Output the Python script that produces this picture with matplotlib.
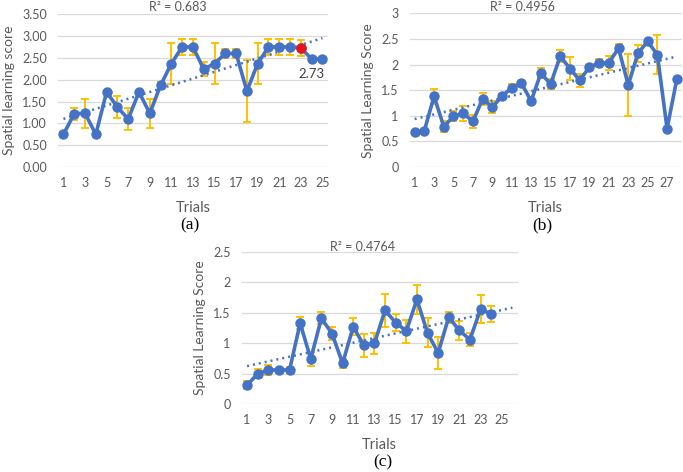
import numpy as np
import matplotlib
matplotlib.use("Agg")
import matplotlib.pyplot as plt

plt.rcParams['font.family'] = ['Lato', 'DejaVu Sans']

# ---------------- data ----------------
trials_a = list(range(1, 26))
score_a = [0.75, 1.22, 1.23, 0.75, 1.72, 1.37, 1.10, 1.72, 1.23, 1.87,
           2.37, 2.75, 2.75, 2.24, 2.37, 2.60, 2.60, 1.74, 2.37, 2.75,
           2.75, 2.75, 2.73, 2.47, 2.47]
err_a = [0, 0.14, 0.33, 0, 0, 0.25, 0.25, 0, 0.33, 0.08,
         0.46, 0.19, 0.19, 0.16, 0.46, 0.10, 0.10, 0.70, 0.46, 0.19,
         0.19, 0.19, 0.19, 0, 0]
r2_a = "R² = 0.683"
yticks_a = [0, 0.5, 1.0, 1.5, 2.0, 2.5, 3.0, 3.5]
ylabels_a = ["0.00", "0.50", "1.00", "1.50", "2.00", "2.50", "3.00", "3.50"]
xticks_a = list(range(1, 26, 2))

trials_b = list(range(1, 29))
score_b = [0.68, 0.71, 1.38, 0.79, 0.99, 1.05, 0.89, 1.33, 1.17, 1.38,
           1.55, 1.63, 1.29, 1.83, 1.62, 2.16, 1.92, 1.69, 1.95, 2.03,
           2.03, 2.32, 1.60, 2.22, 2.45, 2.19, 0.75, 1.71]
err_b = [0, 0, 0.15, 0.10, 0.10, 0.15, 0.12, 0.12, 0.12, 0.05,
         0.07, 0, 0, 0.10, 0.10, 0.12, 0.23, 0.13, 0.05, 0.07,
         0.13, 0.08, 0.60, 0.17, 0, 0.38, 0, 0]
r2_b = "R² = 0.4956"
yticks_b = [0, 0.5, 1, 1.5, 2, 2.5, 3]
ylabels_b = ["0", "0.5", "1", "1.5", "2", "2.5", "3"]
xticks_b = list(range(1, 28, 2))

trials_c = list(range(1, 25))
score_c = [0.31, 0.50, 0.56, 0.56, 0.56, 1.33, 0.74, 1.41, 1.16, 0.67,
           1.27, 0.97, 1.00, 1.54, 1.34, 1.20, 1.72, 1.17, 0.84, 1.43,
           1.21, 1.06, 1.56, 1.48]
err_c = [0.07, 0.07, 0.08, 0, 0.05, 0.10, 0.11, 0.10, 0.10, 0.07,
         0.14, 0.19, 0.17, 0.27, 0.14, 0.19, 0.24, 0.24, 0.26, 0.09,
         0.16, 0.11, 0.23, 0.13]
r2_c = "R² = 0.4764"
yticks_c = [0, 0.5, 1, 1.5, 2, 2.5]
ylabels_c = ["0", "0.5", "1", "1.5", "2", "2.5"]
xticks_c = list(range(1, 26, 2))

BLUE = "#4472C4"
GOLD = "#FFC000"
GRID = "#D9D9D9"
TXT = "#595959"

fig = plt.figure(figsize=(6.83, 4.72), dpi=100)

def panel(rect, x, y, e, xlim, yticks, ylabels, xticks, r2, r2pos, ylab, trend_end):
    ax = fig.add_axes(rect)
    x = np.array(x); y = np.array(y); e = np.array(e)
    ax.set_xlim(*xlim)
    ax.set_ylim(yticks[0], yticks[-1])
    ax.set_yticks(yticks)
    ax.set_yticklabels(ylabels)
    ax.set_xticks(xticks)
    ax.set_xticklabels([str(t) for t in xticks])
    ax.grid(axis='y', color=GRID, lw=0.9)
    ax.set_axisbelow(True)
    for s in ax.spines.values():
        s.set_visible(False)
    ax.tick_params(length=0, labelsize=9, colors=TXT, pad=8)
    ax.tick_params(axis='x', pad=7)
    mask = e > 0
    ax.errorbar(x[mask], y[mask], yerr=e[mask], fmt='none', ecolor=GOLD,
                elinewidth=1.4, capsize=3, capthick=1.4, zorder=2)
    ax.plot(x, y, color=BLUE, lw=2.6, marker='o', ms=6.5, zorder=3)
    k, b = np.polyfit(x, y, 1)
    xt = np.array([1, trend_end])
    ax.plot(xt, k * xt + b, color=BLUE, lw=1.8, ls=(0, (0.8, 1.6)), zorder=2.5)
    ax.text(r2pos[0], r2pos[1], r2, transform=ax.transAxes, ha='center',
            va='center', fontsize=9, color=TXT)
    ax.set_xlabel("Trials", fontsize=10.5, color=TXT, labelpad=9)
    ax.set_ylabel(ylab, fontsize=10, color=TXT, labelpad=5)
    return ax

axa = panel([0.085, 0.646, 0.395, 0.324], trials_a, score_a, err_a, (0.5, 25.5),
            yticks_a, ylabels_a, xticks_a, r2_a, (0.444, 1.046),
            "Spatial learning score", 25)
axa.plot([trials_a[22]], [score_a[22]], 'o', color='#E8141B', ms=6.5, zorder=4)
axa.annotate(f"{score_a[22]:.2f}", (trials_a[22], score_a[22]), xytext=(-2, -19),
             textcoords='offset points', fontsize=9.5, color='#404040',
             ha='left', va='center')

axb = panel([0.600, 0.646, 0.398, 0.326], trials_b, score_b, err_b, (0.5, 28.5),
            yticks_b, ylabels_b, xticks_b, r2_b, (0.415, 1.04),
            "Spatial Learning Score", 28)

axc = panel([0.354, 0.144, 0.404, 0.322], trials_c, score_c, err_c, (0.5, 26.5),
            yticks_c, ylabels_c, xticks_c, r2_c, (0.438, 1.03),
            "Spatial Learning Score", 26)

for lab, xp, yp in [("(a)", 190, 225), ("(b)", 542, 225), ("(c)", 383, 462)]:
    fig.text(xp / 683, 1 - yp / 472, lab, ha='center', va='center',
             fontsize=12.5, family='Liberation Serif', color='black')

fig.savefig("out.png", dpi=100)
